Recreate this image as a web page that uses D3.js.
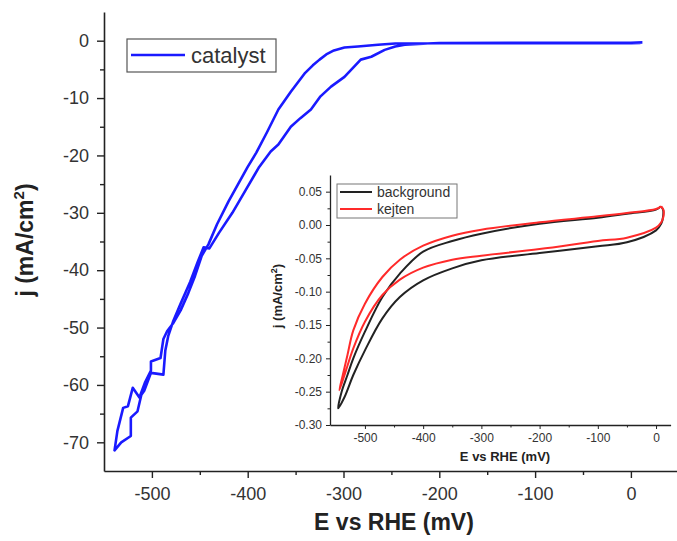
<!DOCTYPE html>
<html>
<head>
<meta charset="utf-8">
<script src="https://cdn.jsdelivr.net/npm/d3@7"></script>
<style>
  body { margin: 0; background: #fff; }
  svg { display: block; font-family: "Liberation Sans", Arial, sans-serif; }
  .axis path, .axis line { stroke: #222; }
  .axis text { fill: #333; }
</style>
</head>
<body>
<div id="chart"></div>
<script>
// main CV loop (catalyst): down the right branch, back up the left one
const catalystE = [12, 0, -100, -200, -212, -236, -246, -257, -271, -282, -299, -313, -324, -334, -345, -355, -368, -376, -388, -402, -416, -430, -440, -446, -452, -460, -470, -478, -483, -486, -488, -501, -508, -511, -515, -522, -522, -532, -539,
  -536, -530, -525, -520, -513, -507, -501, -501, -491, -488, -484, -478, -470, -462, -455, -448, -441, -432, -420, -410, -400, -391, -380, -368, -355, -340, -332, -325, -318, -310, -299, -285, -264, -246, -200, -100, 0, 10];
const catalystJ = [-0.3, -0.35, -0.35, -0.4, -0.5, -0.7, -1.0, -1.6, -2.8, -3.3, -6.3, -8.0, -9.7, -12.0, -13.5, -15.0, -18.1, -19.3, -22, -26, -30, -33.5, -36.2, -36, -38.5, -42, -45.8, -49, -51.5, -54, -58.2, -57.9, -61, -61.7, -64.6, -65.7, -68.9, -70, -71.4,
  -68, -64, -63.7, -60.5, -62.2, -59.5, -57.5, -55.9, -55.3, -52, -50.6, -49.3, -47, -44, -41, -37.5, -35.5, -32, -28, -25, -22, -19.5, -16, -12, -8.9, -5.6, -4.3, -3.3, -2.4, -1.7, -1.2, -1.0, -0.7, -0.5, -0.45, -0.45, -0.45, -0.4];

// inset loops
const backgroundE = [8, 12, 12, 9, 0, -50, -100, -200, -300, -350, -400, -440, -470, -500, -520, -535, -546, -540, -530, -520, -500, -470, -440, -400, -350, -300, -200, -100, -50, 0, 8];
const backgroundJ = [0.028, 0.023, 0.012, 0.002, -0.008, -0.026, -0.032, -0.042, -0.053, -0.065, -0.083, -0.108, -0.140, -0.188, -0.225, -0.258, -0.275, -0.25, -0.225, -0.20, -0.16, -0.108, -0.073, -0.040, -0.024, -0.013, 0.002, 0.011, 0.017, 0.023, 0.028];
const kejtenE = [9, 13, 12.5, 9, 0, -50, -100, -200, -300, -350, -400, -440, -470, -500, -520, -535, -544, -538, -530, -520, -500, -470, -440, -400, -350, -300, -200, -100, -50, 0, 9];
const kejtenJ = [0.028, 0.022, 0.012, 0.004, -0.004, -0.019, -0.024, -0.036, -0.046, -0.052, -0.064, -0.082, -0.105, -0.145, -0.185, -0.225, -0.248, -0.225, -0.195, -0.158, -0.118, -0.078, -0.052, -0.031, -0.016, -0.007, 0.004, 0.013, 0.018, 0.024, 0.028];

// ticks
const mainXTicks = [-500, -400, -300, -200, -100, 0];
const mainXMinor = [-450, -350, -250, -150, -50];
const mainYTicks = [0, -10, -20, -30, -40, -50, -60, -70];
const mainYMinor = [-5, -15, -25, -35, -45, -55, -65];
const insetXTicks = [-500, -400, -300, -200, -100, 0];
const insetXMinor = [-450, -350, -250, -150, -50];
const insetYTicks = [0.05, 0.00, -0.05, -0.10, -0.15, -0.20, -0.25, -0.30];
const insetYMinor = [0.025, -0.025, -0.075, -0.125, -0.175, -0.225, -0.275];

const W = 677, H = 541;
const svg = d3.select("#chart").append("svg")
    .attr("width", W).attr("height", H);
svg.append("rect").attr("width", W).attr("height", H).attr("fill", "#fff");

// ---- main plot ----
const x = d3.scaleLinear().domain([-550, 50]).range([104, 678.8]);
const y = d3.scaleLinear().domain([5, -75]).range([12, 471]);

const xAx = svg.append("g").attr("class", "axis")
    .attr("transform", `translate(0,${y(-75)})`)
    .call(d3.axisBottom(x).tickValues(mainXTicks).tickSize(7).tickSizeOuter(0).tickPadding(9)
        .tickFormat(d => String(d)));
xAx.select(".domain").attr("stroke-width", 1.6);
xAx.selectAll("line").attr("stroke-width", 1.4);
xAx.selectAll("text").attr("font-size", 18).attr("font-family", "Liberation Sans, Arial");
svg.append("g").attr("class", "axis")
    .attr("transform", `translate(0,${y(-75)})`)
    .call(d3.axisBottom(x).tickValues(mainXMinor).tickSize(4).tickFormat(""))
    .call(g => g.select(".domain").remove())
    .selectAll("line").attr("stroke-width", 1.4);

const yAx = svg.append("g").attr("class", "axis")
    .attr("transform", `translate(${x(-550)},0)`)
    .call(d3.axisLeft(y).tickValues(mainYTicks).tickSize(7).tickSizeOuter(0).tickPadding(8)
        .tickFormat(d => String(d)));
yAx.select(".domain").attr("stroke-width", 1.6);
yAx.selectAll("line").attr("stroke-width", 1.4);
yAx.selectAll("text").attr("font-size", 18).attr("font-family", "Liberation Sans, Arial");
svg.append("g").attr("class", "axis")
    .attr("transform", `translate(${x(-550)},0)`)
    .call(d3.axisLeft(y).tickValues(mainYMinor).tickSize(4).tickFormat(""))
    .call(g => g.select(".domain").remove())
    .selectAll("line").attr("stroke-width", 1.4);

// axis titles
svg.append("text")
    .attr("x", 394).attr("y", 530)
    .attr("text-anchor", "middle")
    .attr("font-size", 23).attr("font-weight", "bold").attr("fill", "#222")
    .text("E vs RHE (mV)");

const yt = svg.append("text")
    .attr("transform", "translate(33,240) rotate(-90)")
    .attr("text-anchor", "middle")
    .attr("font-size", 23).attr("font-weight", "bold").attr("fill", "#222");
yt.append("tspan").text("j (mA/cm");
yt.append("tspan").attr("font-size", 15).attr("dy", -9).text("2");
yt.append("tspan").attr("dy", 9).text(")");

// catalyst curve
const catalyst = catalystE.map((e, i) => [e, catalystJ[i]]);
svg.append("path")
    .datum(catalyst)
    .attr("fill", "none")
    .attr("stroke", "#1a1aff")
    .attr("stroke-width", 2.6)
    .attr("stroke-linejoin", "round")
    .attr("d", d3.line().x(d => x(d[0])).y(d => y(d[1])));

// main legend
svg.append("rect").attr("x", 127).attr("y", 39).attr("width", 149).attr("height", 33)
    .attr("fill", "#fff").attr("stroke", "#555").attr("stroke-width", 1.2);
svg.append("line").attr("x1", 131).attr("x2", 185).attr("y1", 55).attr("y2", 55)
    .attr("stroke", "#1a1aff").attr("stroke-width", 2.6);
svg.append("text").attr("x", 191).attr("y", 63)
    .attr("font-size", 22).attr("fill", "#333").text("catalyst");

// ---- inset ----
const ix = d3.scaleLinear().domain([-560, 25]).range([330, 670.6]);
const iy = d3.scaleLinear().domain([0.075, -0.30]).range([175, 425]);
const inset = svg.append("g");

const ixAx = inset.append("g").attr("class", "axis")
    .attr("transform", `translate(0,${iy(-0.30)})`)
    .call(d3.axisBottom(ix).tickValues(insetXTicks).tickSize(4).tickSizeOuter(0).tickPadding(4)
        .tickFormat(d => String(d)));
ixAx.selectAll("text").attr("font-size", 12).attr("font-family", "Liberation Sans, Arial");
ixAx.select(".domain").attr("stroke-width", 1.3);
inset.append("g").attr("class", "axis")
    .attr("transform", `translate(0,${iy(-0.30)})`)
    .call(d3.axisBottom(ix).tickValues(insetXMinor).tickSize(2.5).tickFormat(""))
    .call(g => g.select(".domain").remove());

const iyAx = inset.append("g").attr("class", "axis")
    .attr("transform", `translate(${ix(-560)},0)`)
    .call(d3.axisLeft(iy).tickValues(insetYTicks).tickSize(4).tickSizeOuter(0).tickPadding(4)
        .tickFormat(d => d.toFixed(2)));
iyAx.selectAll("text").attr("font-size", 12).attr("font-family", "Liberation Sans, Arial");
iyAx.select(".domain").attr("stroke-width", 1.3);
inset.append("g").attr("class", "axis")
    .attr("transform", `translate(${ix(-560)},0)`)
    .call(d3.axisLeft(iy).tickValues(insetYMinor).tickSize(2.5).tickFormat(""))
    .call(g => g.select(".domain").remove());

inset.append("text")
    .attr("x", 505).attr("y", 461)
    .attr("text-anchor", "middle")
    .attr("font-size", 13).attr("font-weight", "bold").attr("fill", "#222")
    .text("E vs RHE (mV)");
const iyt = inset.append("text")
    .attr("transform", "translate(282,296) rotate(-90)")
    .attr("text-anchor", "middle")
    .attr("font-size", 13).attr("font-weight", "bold").attr("fill", "#222");
iyt.append("tspan").text("j (mA/cm");
iyt.append("tspan").attr("font-size", 9).attr("dy", -5).text("2");
iyt.append("tspan").attr("dy", 5).text(")");

const iline = d3.line().x(d => ix(d[0])).y(d => iy(d[1])).curve(d3.curveCatmullRom);
const background = backgroundE.map((e, i) => [e, backgroundJ[i]]);
const kejten = kejtenE.map((e, i) => [e, kejtenJ[i]]);
inset.append("path").datum(background)
    .attr("fill", "none").attr("stroke", "#222").attr("stroke-width", 2)
    .attr("d", iline);
inset.append("path").datum(kejten)
    .attr("fill", "none").attr("stroke", "#ff2a2a").attr("stroke-width", 2)
    .attr("d", iline);

// inset legend
inset.append("rect").attr("x", 337).attr("y", 184).attr("width", 120).attr("height", 34)
    .attr("fill", "#fff").attr("stroke", "#777").attr("stroke-width", 1);
const legItems = [["background", "#222"], ["kejten", "#ff2a2a"]];
legItems.forEach(([name, col], i) => {
    const ly = 192 + i * 17;
    inset.append("line").attr("x1", 340).attr("x2", 372).attr("y1", ly).attr("y2", ly)
        .attr("stroke", col).attr("stroke-width", 2);
    inset.append("text").attr("x", 377).attr("y", ly + 5)
        .attr("font-size", 14).attr("fill", "#333").text(name);
});
</script>
</body>
</html>
